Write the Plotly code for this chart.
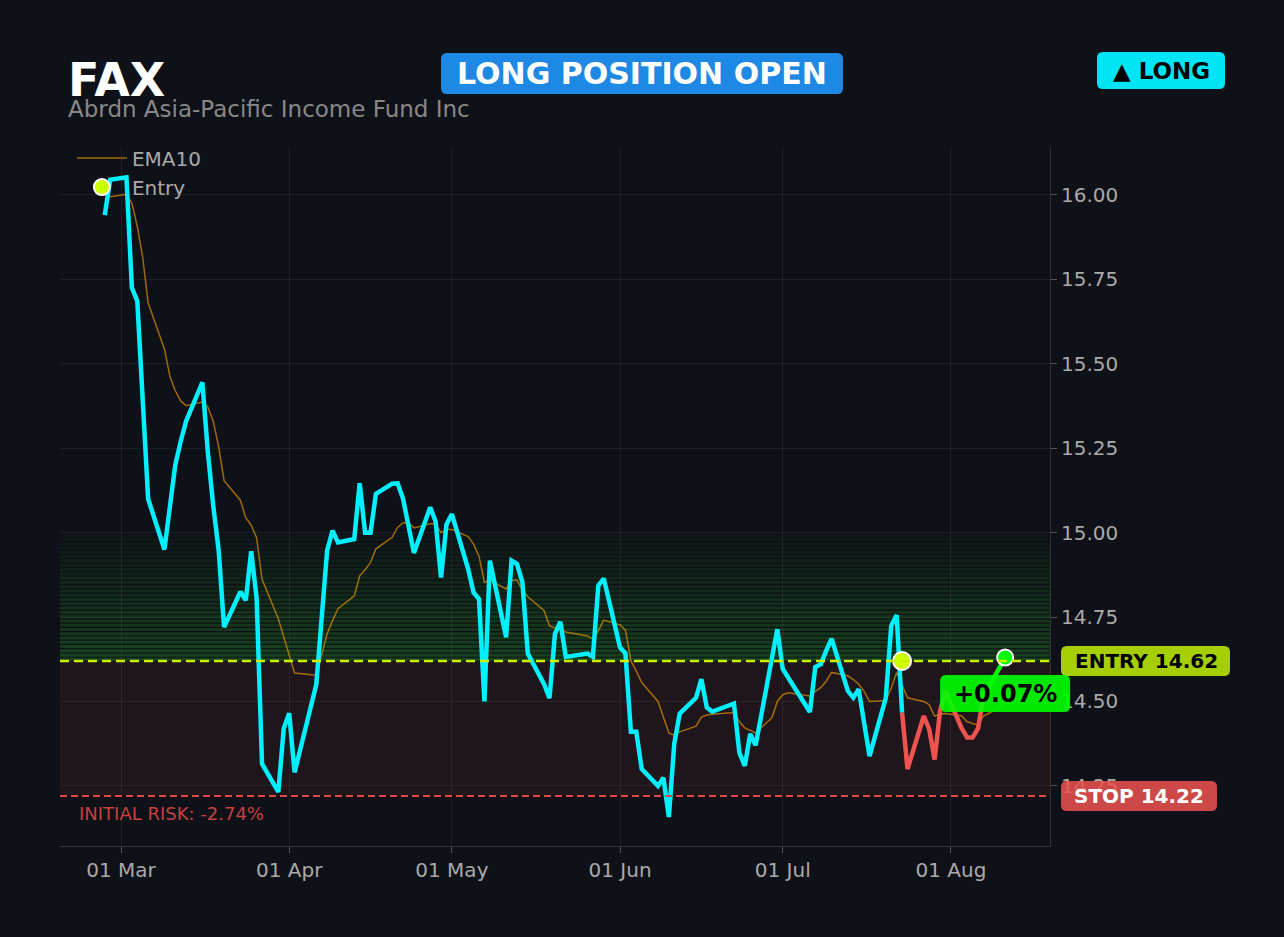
import datetime as dt
import plotly.graph_objects as go

# trade setup
TICKER = 'FAX'
NAME = 'Abrdn Asia-Pacific Income Fund Inc'
ENTRY = 14.62
STOP = 14.22
ZONE_TOP = 15.00
ENTRY_DATE = '2026-07-23'
SPLIT_DATE = '2026-08-07'   # last leg drawn in green

dates = ['2026-02-26', '2026-02-27', '2026-03-02', '2026-03-03', '2026-03-04', '2026-03-05',
         '2026-03-06', '2026-03-09', '2026-03-10', '2026-03-11', '2026-03-12', '2026-03-13',
         '2026-03-16', '2026-03-17', '2026-03-18', '2026-03-19', '2026-03-20', '2026-03-23',
         '2026-03-24', '2026-03-25', '2026-03-26', '2026-03-27', '2026-03-30', '2026-03-31',
         '2026-04-01', '2026-04-02', '2026-04-06', '2026-04-07', '2026-04-08', '2026-04-09',
         '2026-04-10', '2026-04-13', '2026-04-14', '2026-04-15', '2026-04-16', '2026-04-17',
         '2026-04-20', '2026-04-21', '2026-04-22', '2026-04-23', '2026-04-24', '2026-04-27',
         '2026-04-28', '2026-04-29', '2026-04-30', '2026-05-01', '2026-05-04', '2026-05-05',
         '2026-05-06', '2026-05-07', '2026-05-08', '2026-05-11', '2026-05-12', '2026-05-13',
         '2026-05-14', '2026-05-15', '2026-05-18', '2026-05-19', '2026-05-20', '2026-05-21',
         '2026-05-22', '2026-05-26', '2026-05-27', '2026-05-28', '2026-05-29', '2026-06-01',
         '2026-06-02', '2026-06-03', '2026-06-04', '2026-06-05', '2026-06-08', '2026-06-09',
         '2026-06-10', '2026-06-11', '2026-06-12', '2026-06-15', '2026-06-16', '2026-06-17',
         '2026-06-18', '2026-06-22', '2026-06-23', '2026-06-24', '2026-06-25', '2026-06-26',
         '2026-06-29', '2026-06-30', '2026-07-01', '2026-07-02', '2026-07-06', '2026-07-07',
         '2026-07-08', '2026-07-09', '2026-07-10', '2026-07-13', '2026-07-14', '2026-07-15',
         '2026-07-16', '2026-07-17', '2026-07-20', '2026-07-21', '2026-07-22', '2026-07-23',
         '2026-07-24', '2026-07-27', '2026-07-28', '2026-07-29', '2026-07-30', '2026-07-31',
         '2026-08-03', '2026-08-04', '2026-08-05', '2026-08-06', '2026-08-07', '2026-08-10',
         '2026-08-11']

close = [15.94, 16.045, 16.052, 15.725, 15.686, 15.39,
         15.10, 14.95, 15.07, 15.20, 15.27, 15.33,
         15.445, 15.24, 15.08, 14.948, 14.72, 14.825,
         14.80, 14.945, 14.806, 14.315, 14.232, 14.42,
         14.465, 14.29, 14.55, 14.75, 14.947, 15.006,
         14.971, 14.981, 15.146, 15.0, 15.0, 15.115,
         15.145, 15.146, 15.10, 15.02, 14.94, 15.075,
         15.033, 14.867, 15.024, 15.055, 14.892, 14.823,
         14.803, 14.50, 14.917, 14.69, 14.917, 14.907,
         14.853, 14.642, 14.551, 14.51, 14.70, 14.736,
         14.632, 14.642, 14.632, 14.843, 14.864, 14.66,
         14.642, 14.41, 14.41, 14.30, 14.25, 14.274,
         14.158, 14.375, 14.464, 14.511, 14.566, 14.482,
         14.47, 14.494, 14.348, 14.309, 14.404, 14.37,
         14.63, 14.714, 14.596, 14.57, 14.469, 14.602,
         14.61, 14.65, 14.686, 14.531, 14.511, 14.536,
         14.44, 14.338, 14.511, 14.724, 14.756, 14.467,
         14.30, 14.457, 14.418, 14.328, 14.472, 14.53,
         14.42, 14.393, 14.393, 14.42, 14.515, 14.60,
         14.63]

ema10 = [15.987, 15.995, 16.002, 15.975, 15.907, 15.815,
         15.68, 15.544, 15.464, 15.42, 15.39, 15.376,
         15.387, 15.372, 15.33, 15.255, 15.154, 15.096,
         15.044, 15.022, 14.985, 14.862, 14.745, 14.69,
         14.635, 14.584, 14.578, 14.635, 14.70, 14.74,
         14.775, 14.813, 14.872, 14.89, 14.912, 14.952,
         14.986, 15.016, 15.029, 15.029, 15.014, 15.026,
         15.026, 15.0, 15.01, 15.009, 14.988, 14.966,
         14.93, 14.853, 14.858, 14.833, 14.858, 14.86,
         14.83, 14.81, 14.769, 14.724, 14.719, 14.712,
         14.706, 14.694, 14.684, 14.71, 14.741, 14.727,
         14.711, 14.62, 14.59, 14.556, 14.50, 14.452,
         14.407, 14.40, 14.41, 14.427, 14.454, 14.46,
         14.462, 14.467, 14.44, 14.422, 14.415, 14.407,
         14.452, 14.50, 14.52, 14.526, 14.516, 14.53,
         14.541, 14.56, 14.586, 14.576, 14.565, 14.551,
         14.53, 14.50, 14.503, 14.54, 14.586, 14.546,
         14.511, 14.50, 14.49, 14.457, 14.462, 14.464,
         14.457, 14.44, 14.434, 14.43, 14.457, 14.482,
         14.50]

assert len(dates) == len(close) == len(ema10)

BG = '#0e1117'
FONT = 'DejaVu Sans'
W, H = 1284, 937
L, R, T, B = 60, 234, 147, 91
PW, PH = W - L - R, H - T - B
XR = ['2026-02-17 18:00', '2026-08-19 06:30']
YR = [14.072, 16.142]

ie = dates.index(ENTRY_DATE)
isp = dates.index(SPLIT_DATE)
pnl = (close[-1] - ENTRY) / ENTRY * 100
risk = (STOP - ENTRY) / ENTRY * 100


# helpers to place badges in pixels
def ypix(v):
    return T + (YR[1] - v) / (YR[1] - YR[0]) * PH


def xpix(d):
    a = dt.datetime.fromisoformat(XR[0])
    b = dt.datetime.fromisoformat(XR[1])
    t = dt.datetime.fromisoformat(d)
    return L + (t - a) / (b - a) * PW


def rbox(x0, y0, x1, y1, color, r=6):
    X0, X1 = (x0 - L) / PW, (x1 - L) / PW
    Y0, Y1 = (H - B - y1) / PH, (H - B - y0) / PH
    rx, ry = r / PW, r / PH
    p = (f'M {X0+rx},{Y0} L {X1-rx},{Y0} Q {X1},{Y0} {X1},{Y0+ry} L {X1},{Y1-ry} '
         f'Q {X1},{Y1} {X1-rx},{Y1} L {X0+rx},{Y1} Q {X0},{Y1} {X0},{Y1-ry} '
         f'L {X0},{Y0+ry} Q {X0},{Y0} {X0+rx},{Y0} Z')
    return dict(type='path', xref='paper', yref='paper', path=p, fillcolor=color, line_width=0)


def ptext(x, y, text, size, color, anchor='center'):
    return dict(xref='paper', yref='paper', x=(x - L) / PW, y=(H - B - y) / PH,
                xanchor=anchor, yanchor='middle', text=text, showarrow=False,
                font=dict(size=size, color=color))


fig = go.Figure()

# EMA
fig.add_trace(go.Scatter(x=dates, y=ema10, mode='lines', name='EMA10',
                         line=dict(color='rgba(255,165,0,0.6)', width=1.5)))
# price before entry
fig.add_trace(go.Scatter(x=dates[:ie + 1], y=close[:ie + 1], mode='lines', showlegend=False,
                         line=dict(color='#00f0ff', width=4.5)))
# price after entry
fig.add_trace(go.Scatter(x=dates[ie:isp + 1], y=close[ie:isp + 1], mode='lines', showlegend=False,
                         line=dict(color='#ef5350', width=4.5)))
fig.add_trace(go.Scatter(x=dates[isp:], y=close[isp:], mode='lines', showlegend=False,
                         line=dict(color='#00ff00', width=4.5)))
# markers
fig.add_trace(go.Scatter(x=[ENTRY_DATE], y=[ENTRY], mode='markers', name='Entry',
                         marker=dict(color='#ccff00', size=18, line=dict(color='white', width=2))))
fig.add_trace(go.Scatter(x=[dates[-1]], y=[close[-1]], mode='markers', showlegend=False,
                         marker=dict(color='#00ff00', size=16, line=dict(color='white', width=2))))

# risk zone
fig.add_shape(type='rect', xref='paper', x0=0, x1=1, y0=STOP, y1=ENTRY,
              fillcolor='rgba(239,83,80,0.08)', line_width=0, layer='below')
# reward zone, striped gradient
n = 30
h = (ZONE_TOP - ENTRY) / n
for i in range(n):
    a = 0.02 + 0.25 * (1 - i / n)
    fig.add_shape(type='rect', xref='paper', x0=0, x1=1,
                  y0=ENTRY + i * h, y1=ENTRY + i * h + h * 0.72,
                  fillcolor='rgba(50,200,50,%.3f)' % a, line_width=0, layer='below')

fig.add_hline(y=ENTRY, line=dict(color='#ccee00', width=2.5, dash='9px,5px'))
fig.add_hline(y=STOP, line=dict(color='#e04848', width=2.2, dash='7px,4px'))

# badges
ey, sy = ypix(ENTRY), ypix(STOP)
px_, py_ = xpix(dates[-1]), ypix(close[-1]) + 36
fig.add_shape(rbox(441, 53, 843, 94, '#1e88e5'))
fig.add_shape(rbox(1097, 52, 1225, 89, '#00e5f5'))
fig.add_shape(rbox(1061, ey - 15, 1230, ey + 15, 'rgba(204,255,0,0.8)'))
fig.add_shape(rbox(1061, sy - 15, 1217, sy + 15, 'rgba(239,83,80,0.85)'))
fig.add_shape(rbox(px_ - 65, py_ - 18.5, px_ + 65, py_ + 18.5, 'rgba(0,255,0,0.9)'))

ann = [
    ptext(66, 80, '<b>%s</b>' % TICKER, 46, 'white', 'left'),
    ptext(66, 109, NAME, 23, '#888888', 'left'),
    ptext(642, 74, '<b>LONG POSITION OPEN</b>', 30, 'white'),
    ptext(1161, 71, '<b>▲ LONG</b>', 23, 'black'),
    ptext(1146, ey, '<b>ENTRY %.2f</b>' % ENTRY, 20, 'black'),
    ptext(1139, sy, '<b>STOP %.2f</b>' % STOP, 20, 'white'),
    ptext(px_, py_, '<b>%+.2f%%</b>' % pnl, 24, 'black'),
    ptext(77, sy + 17, 'INITIAL RISK: %.2f%%' % risk, 18, '#c84040', 'left'),
]

fig.update_layout(
    width=W, height=H,
    paper_bgcolor=BG, plot_bgcolor=BG,
    font=dict(family=FONT, color='#aaaaaa', size=20),
    margin=dict(l=L, r=R, t=T, b=B),
    annotations=ann,
    showlegend=True,
    legend=dict(x=0.012, y=1.012, xanchor='left', yanchor='top', bgcolor='rgba(0,0,0,0)',
                itemwidth=50, font=dict(size=20, color='#aaaaaa')),
    xaxis=dict(range=XR, tickformat='%d %b', dtick='M1', tick0='2026-03-01',
               gridcolor='rgba(255,255,255,0.06)', showline=True, linecolor='#333333',
               ticks='outside', ticklen=6, tickcolor='#555555', zeroline=False,
               tickfont=dict(size=20, color='#aaaaaa')),
    yaxis=dict(range=YR, side='right', tickformat='.2f', dtick=0.25, tick0=14.25,
               gridcolor='rgba(255,255,255,0.06)', showline=True, linecolor='#333333',
               ticks='outside', ticklen=6, tickcolor='#555555', zeroline=False,
               tickfont=dict(size=20, color='#aaaaaa')),
)

fig.write_html('out.html', config={'displayModeBar': False},
               post_script="document.body.style.margin='0';document.body.style.background='%s';" % BG)
